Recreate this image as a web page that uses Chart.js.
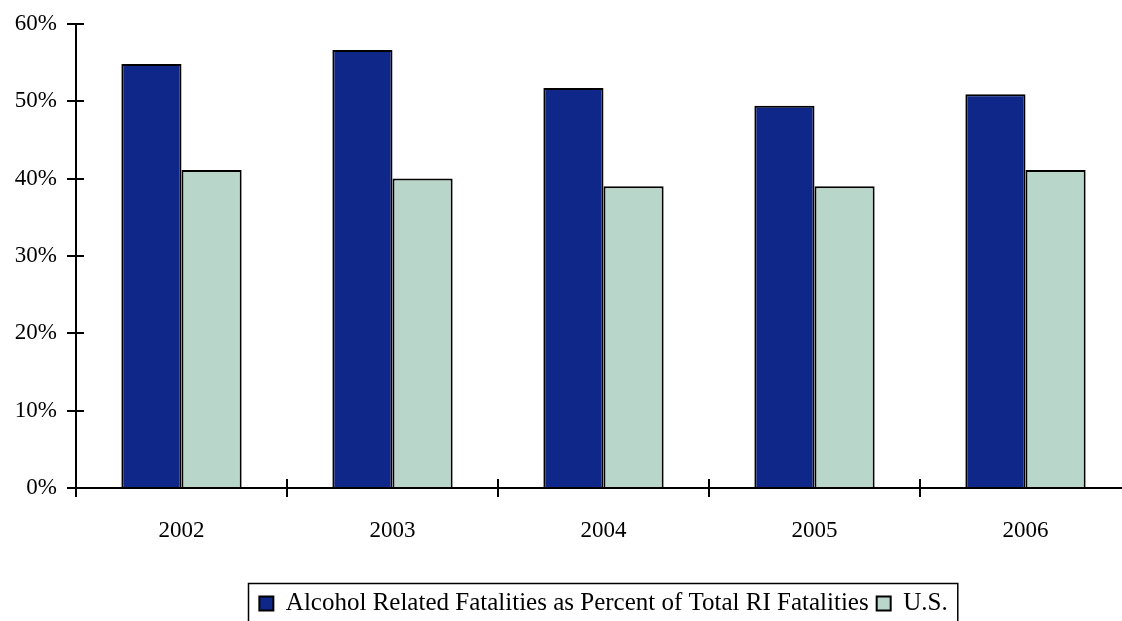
<!DOCTYPE html>
<html>
<head>
<meta charset="utf-8">
<script src="https://cdn.jsdelivr.net/npm/chart.js@4/dist/chart.umd.min.js"></script>
<style>
  html, body { margin: 0; padding: 0; background: #fff; overflow: hidden; }
  #wrap { width: 1122px; height: 621px; overflow: hidden; }
</style>
</head>
<body>
<div id="wrap"><canvas id="grafico" width="1140" height="626"></canvas></div>
<script>
const years = ['2002', '2003', '2004', '2005', '2006'];
const riPercent = [54.8, 56.6, 51.7, 49.4, 50.9];
const usPercent = [41.1, 40.0, 39.0, 39.0, 41.1];
const yTicks = [0, 10, 20, 30, 40, 50, 60];

const serif = "'Liberation Serif', 'DejaVu Serif', serif";

// legend centred under the plot, inward tick halves, legend frame
const extras = {
    id: 'extras',
    afterLayout(chart) {
        const lg = chart.legend, area = chart.chartArea;
        const shift = (area.left + area.right) / 2 - (lg.left + lg.right) / 2;
        lg.left += shift;
        lg.right += shift;
    },
    afterDraw(chart) {
        const ctx = chart.ctx;
        const x = chart.scales.x, y = chart.scales.y;
        ctx.save();
        ctx.strokeStyle = '#000';
        ctx.lineWidth = 2;
        ctx.beginPath();
        yTicks.forEach(v => {
            const py = Math.round(y.getPixelForValue(v));
            ctx.moveTo(x.left, py);
            ctx.lineTo(x.left + 8, py);
        });
        for (let i = 0; i <= years.length; i++) {
            const px = x.getPixelForValue(i - 0.5);
            ctx.moveTo(px, y.bottom);
            ctx.lineTo(px, y.bottom - 9);
        }
        ctx.stroke();
        const boxes = chart.legend.legendHitBoxes;
        if (boxes && boxes.length) {
            const l = Math.min(...boxes.map(b => b.left)) - 11;
            const r = Math.max(...boxes.map(b => b.left + b.width)) + 10;
            const t = Math.min(...boxes.map(b => b.top)) - 8;
            ctx.lineWidth = 1.5;
            ctx.strokeRect(Math.round(l) + 0.5, Math.round(t) + 0.5, r - l, 60);
        }
        ctx.restore();
    }
};

const ctx = document.getElementById('grafico').getContext('2d');
new Chart(ctx, {
    type: 'bar',
    data: {
        labels: years,
        datasets: [
            {
                label: 'Alcohol Related Fatalities as Percent of Total RI Fatalities',
                data: riPercent,
                backgroundColor: '#10278A',
                borderColor: '#000',
                borderWidth: 2
            },
            {
                label: 'U.S.',
                data: usPercent,
                backgroundColor: '#B9D6CB',
                borderColor: '#000',
                borderWidth: 2
            }
        ]
    },
    options: {
        responsive: false,
        animation: false,
        layout: { padding: { top: 18, right: 9, left: 0, bottom: 0 } },
        datasets: { bar: { categoryPercentage: 0.57, barPercentage: 1 } },
        scales: {
            x: {
                grid: { drawOnChartArea: false, offset: true, tickLength: 9, color: '#000', lineWidth: 2 },
                border: { color: '#000', width: 2 },
                ticks: { color: '#000', font: { family: serif, size: 23 }, padding: 20 },
                afterFit(scale) { scale.height = 95; }
            },
            y: {
                min: 0,
                max: 60,
                afterBuildTicks(scale) { scale.ticks = yTicks.map(v => ({ value: v })); },
                grid: { drawOnChartArea: false, tickLength: 9, color: '#000', lineWidth: 2 },
                border: { color: '#000', width: 2 },
                ticks: {
                    color: '#000',
                    font: { family: serif, size: 23 },
                    padding: 10,
                    callback: v => v + '%'
                },
                afterFit(scale) { scale.width = 76; }
            }
        },
        plugins: {
            legend: {
                position: 'bottom',
                labels: {
                    color: '#000',
                    font: { family: serif, size: 25 },
                    boxWidth: 14,
                    boxHeight: 14,
                    padding: 8
                }
            },
            tooltip: { enabled: false }
        }
    },
    plugins: [extras]
});
</script>
</body>
</html>
